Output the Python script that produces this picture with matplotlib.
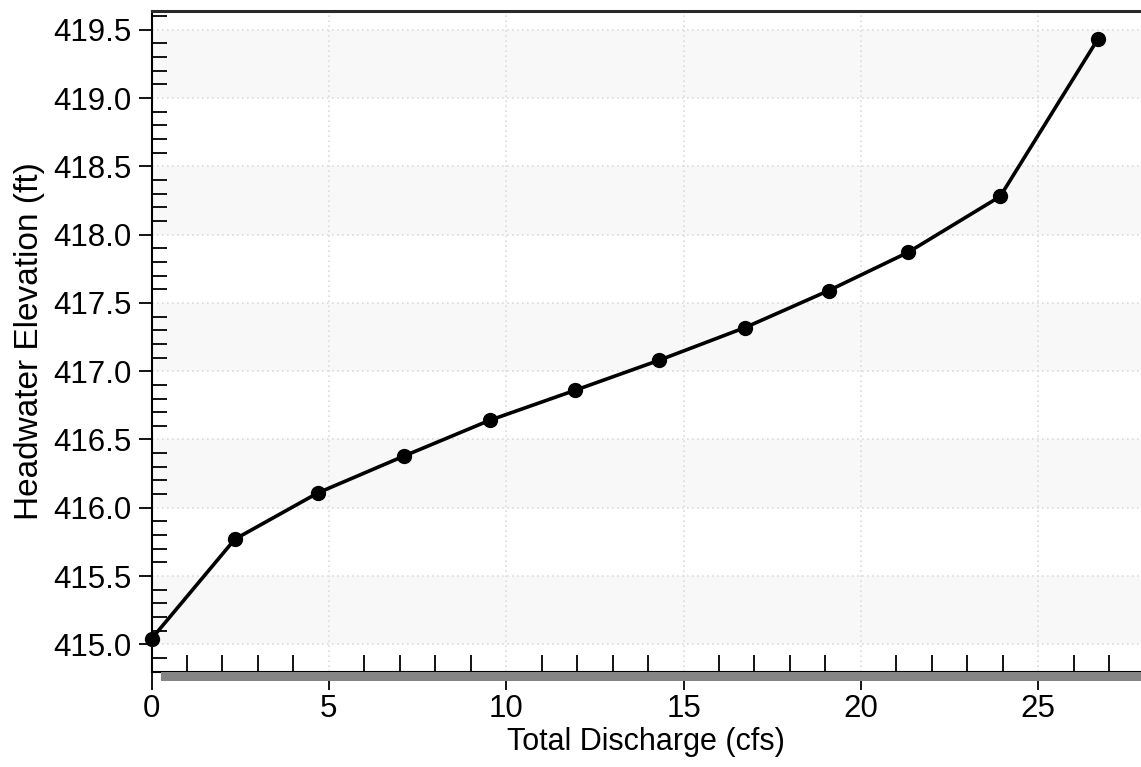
import numpy as np
import matplotlib
matplotlib.use('Agg')
import matplotlib.pyplot as plt
from matplotlib.patches import Rectangle
from matplotlib.ticker import MultipleLocator, FormatStrFormatter

## data
discharge = [0.0, 2.35, 4.70, 7.13, 9.53, 11.94, 14.31, 16.74, 19.09, 21.33, 23.93, 26.68]
headwater = [415.04, 415.77, 416.11, 416.38, 416.64, 416.86, 417.08, 417.32, 417.59, 417.87, 418.28, 419.43]
y_major = [415.0, 415.5, 416.0, 416.5, 417.0, 417.5, 418.0, 418.5, 419.0, 419.5]
x_major = [0, 5, 10, 15, 20, 25]

plt.rcParams['font.family'] = ['Liberation Sans', 'DejaVu Sans']

fig = plt.figure(figsize=(11.41, 7.67), dpi=100)
ax = fig.add_axes([0.1328, 0.1243, 0.8672, 0.8618])

ax.set_xlim(0, 27.9)
ax.set_ylim(414.80, 419.64)

# alternating light bands between major y gridlines
for i in range(0, len(y_major) - 1, 2):
    ax.axhspan(y_major[i], y_major[i + 1], color='#f8f8f8', zorder=0, lw=0)

ax.set_xticks(x_major)
ax.set_yticks(y_major)
ax.yaxis.set_major_formatter(FormatStrFormatter('%.1f'))
ax.xaxis.set_minor_locator(MultipleLocator(1))
ax.yaxis.set_minor_locator(MultipleLocator(0.1))

ax.grid(True, which='major', color='#dcdcdc', linestyle=(0, (1, 2)), linewidth=1.2, zorder=1)
ax.set_axisbelow(True)

ax.plot(discharge, headwater, color='black', linewidth=2.6, marker='o', markersize=10,
        markerfacecolor='black', markeredgecolor='black', zorder=3, clip_on=False)

# tick styling: major out, minor in
ax.tick_params(axis='x', which='major', direction='out', length=13, width=1.3,
               labelsize=22.5, pad=3, colors='black')
ax.tick_params(axis='x', which='minor', direction='in', length=12.5, width=1.3)
ax.tick_params(axis='y', which='major', direction='out', length=9.5, width=1.3,
               labelsize=22.5, pad=5, colors='black')
ax.tick_params(axis='y', which='minor', direction='in', length=10.5, width=1.3)

for side in ['left', 'bottom']:
    ax.spines[side].set_linewidth(1.5)
    ax.spines[side].set_color('black')
ax.spines['top'].set_linewidth(2.2)
ax.spines['top'].set_color('#2a2a2a')
ax.spines['right'].set_visible(False)

ax.set_xlabel('Total Discharge (cfs)', fontsize=22, labelpad=2)
ax.set_ylabel('Headwater Elevation (ft)', fontsize=24, labelpad=6)

# gray shadow strip under the x axis
x0 = 161 / 1141
y1 = 1 - 672 / 767
h = 9 / 767
fig.patches.append(Rectangle((x0, y1 - h), 1 - x0, h, transform=fig.transFigure,
                             facecolor='#858585', edgecolor='none', zorder=0))

fig.savefig('out.png', dpi=100)
